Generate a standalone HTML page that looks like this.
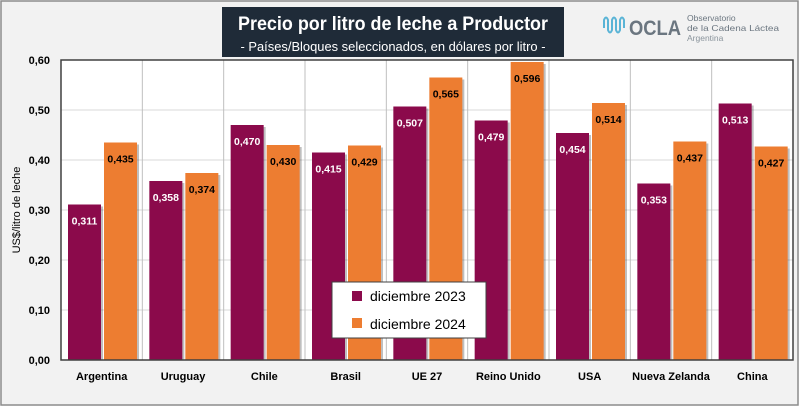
<!DOCTYPE html>
<html><head><meta charset="utf-8"><style>
body{margin:0;background:#fff}
svg{display:block;font-family:"Liberation Sans",sans-serif}
</style></head><body>
<svg width="800" height="407" viewBox="0 0 800 407">
<rect x="1" y="1" width="797" height="404" fill="#f2f2f2" stroke="#8c8c8c" stroke-width="1.5"/>
<g>
<rect x="222" y="7" width="342" height="50" fill="#1f2b38"/>
<text x="393" y="30" text-anchor="middle" fill="#fff" font-size="19" font-weight="bold" textLength="310" lengthAdjust="spacingAndGlyphs">Precio por litro de leche a Productor</text>
<text x="393" y="51" text-anchor="middle" fill="#fff" font-size="12.5" textLength="305" lengthAdjust="spacingAndGlyphs">- Países/Bloques seleccionados, en dólares por litro -</text>
</g>
<g>
<path d="M604 28 v-8 q2-5 4 0 v10 q2 5 4 0 v-10 q2-5 4 0 v10 q2 5 4 0 v-10 q2-5 4 0 v8" fill="none" stroke="#5ab4d6" stroke-width="2"/>
<text x="629" y="35" font-size="21" font-weight="bold" fill="#6b7680" textLength="52" lengthAdjust="spacingAndGlyphs">OCLA</text>
<text x="687" y="21" font-size="8.5" fill="#6b7680">Observatorio</text>
<text x="687" y="31" font-size="8.5" fill="#6b7680" textLength="92" lengthAdjust="spacingAndGlyphs">de la Cadena Láctea</text>
<text x="687" y="41" font-size="8.5" fill="#8a949c">Argentina</text>
</g>
<rect x="61" y="60" width="732" height="300" fill="#fff"/>
<g id="grid"></g>
<g id="bars"></g>
<rect x="61" y="60" width="732" height="300" fill="none" stroke="#404040" stroke-width="1.5"/>
<text transform="translate(20,210) rotate(-90)" text-anchor="middle" font-size="11" fill="#000">US$/litro de leche</text>
<g>
<rect x="332" y="282" width="154" height="56" fill="#fff" stroke="#404040" stroke-width="1"/>
<g><rect x="352" y="291" width="10" height="10" fill="#8b0a4b"/><text x="370" y="301" font-size="14">diciembre 2023</text></g>
<g><rect x="352" y="318" width="10" height="10" fill="#ed7d31"/><text x="370" y="329" font-size="14">diciembre 2024</text></g>
</g>
</svg>
<script>
const categories=["Argentina","Uruguay","Chile","Brasil","UE 27","Reino Unido","USA","Nueva Zelanda","China"];
const values2023=[0.311,0.358,0.470,0.415,0.507,0.479,0.454,0.353,0.513];
const values2024=[0.435,0.374,0.430,0.429,0.565,0.596,0.514,0.437,0.427];
const yTicks=[0,0.1,0.2,0.3,0.4,0.5,0.6];
const NS="http://www.w3.org/2000/svg";
const X0=61,CW=732/9,Y0=360,YH=300,YMAX=0.6;
const y=v=>Y0-v/YMAX*YH;
const x=i=>X0+i*CW;
const fmt=(v,d)=>v.toFixed(d).replace('.',',');
function mk(t,a,p){const e=document.createElementNS(NS,t);for(const k in a)e.setAttribute(k,a[k]);p.appendChild(e);return e;}
const grid=document.getElementById('grid'),bars=document.getElementById('bars');
yTicks.forEach(t=>{
  const l=mk('line',{x1:X0,x2:X0+732,y1:y(t),y2:y(t),stroke:'#d9d9d9'},grid);
  
  
  const tx=mk('text',{x:50,y:y(t)+4,'text-anchor':'end','font-size':11,'font-weight':'bold'},grid);
  tx.textContent=fmt(t,2);
  
  
});
categories.forEach((c,i)=>{
  if(i>0){const l=mk('line',{x1:x(i),x2:x(i),y1:60,y2:360,stroke:'#bfbfbf'},grid);
  
  }
  const series=[[values2023[i],'#8b0a4b','#fff',7,'bar-2023'],[values2024[i],'#ed7d31','#000',43,'bar-2024']];
  series.forEach(([v,col,tc,off,nm])=>{
    const bx=x(i)+off;
    mk('rect',{x:bx+2,y:y(v)+2,width:33,height:Y0-y(v)-2,fill:'#000',opacity:0.25},bars);
    const r=mk('rect',{x:bx,y:y(v),width:33,height:Y0-y(v),fill:col},bars);
    
    
    const t=mk('text',{x:bx+16.5,y:y(v)+20,'text-anchor':'middle','font-size':10.5,'font-weight':'bold',fill:tc},bars);
    t.textContent=fmt(v,3);
    
    
  });
  const t=mk('text',{x:x(i)+CW/2,y:380,'text-anchor':'middle','font-size':11,'font-weight':'bold'},bars);
  t.textContent=c;
  
  
});
</script>
</body></html>
